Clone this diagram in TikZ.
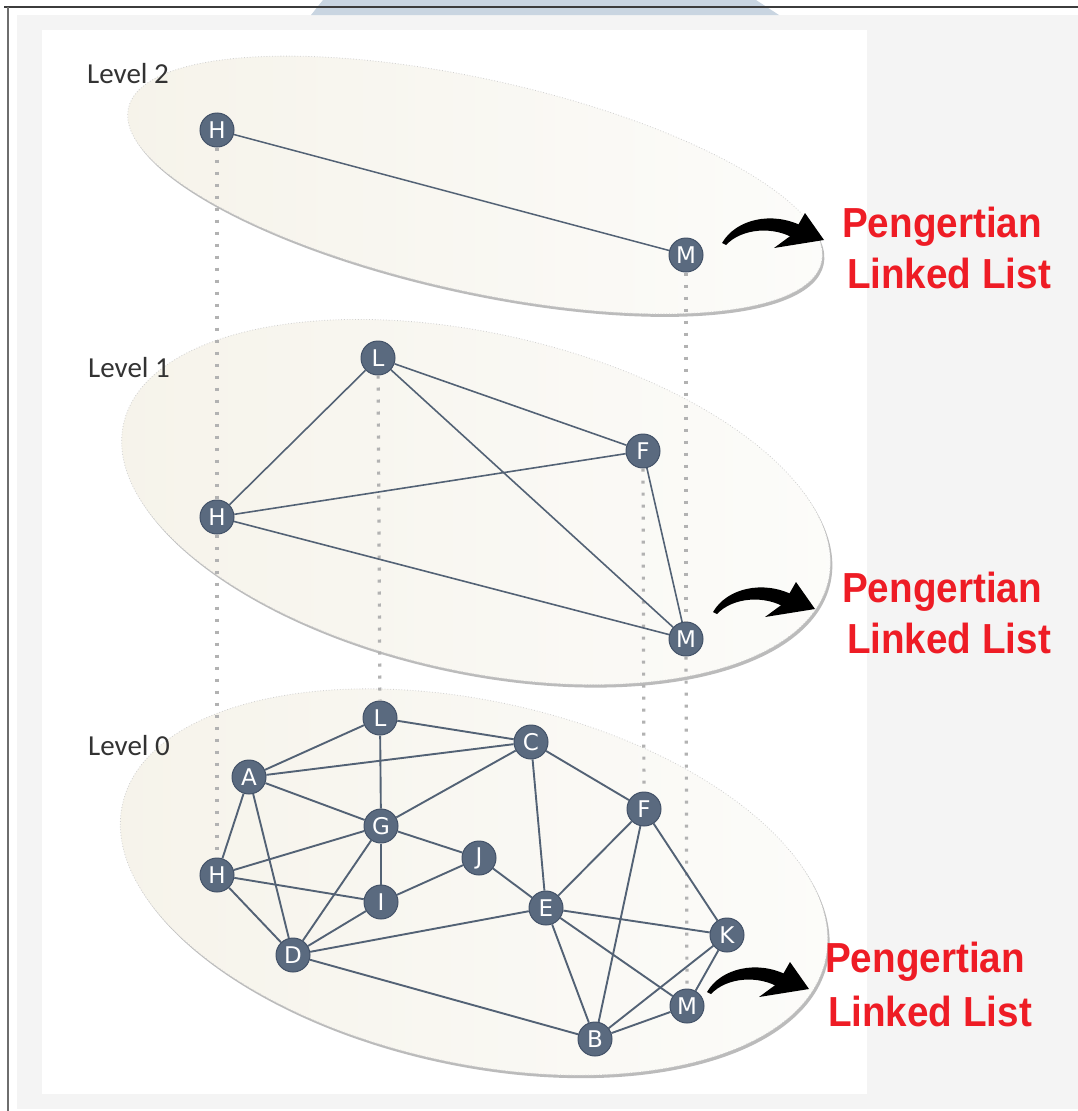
\documentclass[tikz,border=0pt]{standalone}
\usepackage{fontspec}
\newfontfamily\titlefont{Liberation Sans}
\newfontfamily\letterfont{DejaVu Sans}
\newfontfamily\levelfont{Carlito}
\usetikzlibrary{calc}

\definecolor{pagegray}{HTML}{F4F4F4}
\definecolor{bandblue}{HTML}{C9D5E1}
\definecolor{framegray}{HTML}{6E6E6E}
\definecolor{topline}{HTML}{3C3C3C}
\definecolor{nodefill}{HTML}{5A6A7F}
\definecolor{nodeedge}{HTML}{435268}
\definecolor{edgecol}{HTML}{536275}
\definecolor{planeleft}{HTML}{F6F3EA}
\definecolor{planeright}{HTML}{FCFCFA}
\definecolor{planeshadow}{HTML}{BBBBBB}
\definecolor{planerim}{HTML}{D0D0D0}
\definecolor{dotgray}{HTML}{B2B2B2}
\definecolor{titlered}{HTML}{EE1C25}
\definecolor{leveltext}{HTML}{333333}

% one tilted plane: centre x, centre y, x radius, y radius
\newcommand\levelplane[4]{%
  \fill[planeshadow, shift={(#1+2,#2+3)}, rotate=-12.5]
    (0,0) ellipse [x radius=#3pt, y radius=#4pt];
  \shade[shift={(#1,#2)}, rotate=-12.5, left color=planeleft, right color=planeright]
    (0,0) ellipse [x radius=#3pt, y radius=#4pt];
  \draw[planerim, line width=0.8pt, dotted, shift={(#1,#2)}, rotate=-12.5]
    (0,0) ellipse [x radius=#3pt, y radius=#4pt];
}

\begin{document}
\begin{tikzpicture}[x=1pt, y=-1pt,
  vertex/.style={circle, fill=nodefill, draw=nodeedge, line width=1pt,
    minimum size=34pt, inner sep=0pt, text=white,
    font=\letterfont\fontsize{23}{23}\selectfont},
  link/.style={draw=edgecol, line width=1.9pt},
  vlink/.style={draw=dotgray, line width=3.2pt, dash pattern=on 3.2pt off 8.8pt},
  levellabel/.style={anchor=base west, inner sep=0pt, text=leveltext,
    font=\levelfont\fontsize{29}{29}\selectfont},
  redline/.style={anchor=base, inner sep=0pt, text=titlered,
    font=\titlefont\bfseries\fontsize{42}{42}\selectfont},
  pics/bentarrow/.style={code={
    \fill[black] (0,0) .. controls (14,-24) and (50,-32) .. (80,-17)
      -- (73,-4) .. controls (52,-17) and (20,-15) .. (4,2) -- cycle;
    \fill[black] (83,-30) -- (102,-3) -- (52,5) -- (71,-9) -- cycle;
  }}
]
\useasboundingbox (0,0) rectangle (1078,1111);

% page frame
\fill[pagegray] (17,15) rectangle (1078,1109);
\fill[white] (42,30) rectangle (867,1094);
\fill[bandblue] (323,0) -- (756,0) -- (779,15) -- (311,15) -- cycle;
\draw[topline, line width=2pt] (4,7) -- (1078,7);
\draw[framegray, line width=2pt] (8,7) -- (8,1111);

% the three planes
\levelplane{475}{185}{355}{106}
\levelplane{476}{502}{361}{169}
\levelplane{474}{882}{360}{181}

% level titles
\node[levellabel] (lv2) at (87,83) {Level 2};
\node[levellabel] (lv1) at (88,377) {Level 1};
\node[levellabel] (lv0) at (88,755) {Level 0};

% level 2 nodes
\node[vertex] (H2) at (217,130) {H};
\node[vertex] (M2) at (686,255) {M};

% level 1 nodes
\node[vertex] (L1) at (378,358) {L};
\node[vertex] (F1) at (643,451) {F};
\node[vertex] (H1) at (217,517) {H};
\node[vertex] (M1) at (686,639) {M};

% level 0 nodes
\node[vertex] (L0) at (380,718) {L};
\node[vertex] (C0) at (531,742) {C};
\node[vertex] (A0) at (249,777) {A};
\node[vertex] (F0) at (644,809) {F};
\node[vertex] (G0) at (381,826) {G};
\node[vertex] (J0) at (479,858) {J};
\node[vertex] (H0) at (217,875) {H};
\node[vertex] (I0) at (381,902) {I};
\node[vertex] (E0) at (546,908) {E};
\node[vertex] (K0) at (727,935) {K};
\node[vertex] (D0) at (293,955) {D};
\node[vertex] (M0) at (687,1006) {M};
\node[vertex] (B0) at (595,1039) {B};

% links between the same key on neighbouring levels
\draw[vlink] (H2) -- (H1);
\draw[vlink] (H1) -- (H0);
\draw[vlink] (L1) -- (L0);
\draw[vlink] (F1) -- (F0);
\draw[vlink] (M2) -- (M1);
\draw[vlink] (M1) -- (M0);

% level 2 edges
\draw[link, line width=1.5pt] (H2) -- (M2);

% level 1 edges
\foreach \a/\b in {L1/H1, L1/F1, L1/M1, H1/F1, H1/M1, F1/M1}
  \draw[link, line width=1.6pt] (\a) -- (\b);

% level 0 edges
\foreach \a/\b in {L0/A0, L0/C0, L0/G0, A0/C0, A0/G0, A0/H0, A0/D0,
    C0/G0, C0/E0, C0/F0, G0/H0, G0/D0, G0/I0, G0/J0, H0/I0, H0/D0,
    I0/D0, I0/J0, J0/E0, D0/E0, D0/B0, E0/F0, E0/K0, E0/M0, E0/B0,
    F0/B0, F0/K0, K0/B0, K0/M0, M0/B0}
  \draw[link] (\a) -- (\b);

% pointers to the caption
\coordinate (t2) at (722,243);
\coordinate (t1) at (713,612);
\coordinate (t0) at (707,992);
\pic at (t2) {bentarrow};
\pic at (t1) {bentarrow};
\pic at (t0) {bentarrow};

\node[redline] (p2) at (942,237) {\scalebox{0.92}[1]{Pengertian}};
\node[redline] (k2) at (949,288) {\scalebox{0.92}[1]{Linked List}};
\node[redline] (p1) at (942,602) {\scalebox{0.92}[1]{Pengertian}};
\node[redline] (k1) at (949,653) {\scalebox{0.92}[1]{Linked List}};
\node[redline] (p0) at (925,972) {\scalebox{0.92}[1]{Pengertian}};
\node[redline] (k0) at (930,1026) {\scalebox{0.92}[1]{Linked List}};
\end{tikzpicture}
\end{document}
